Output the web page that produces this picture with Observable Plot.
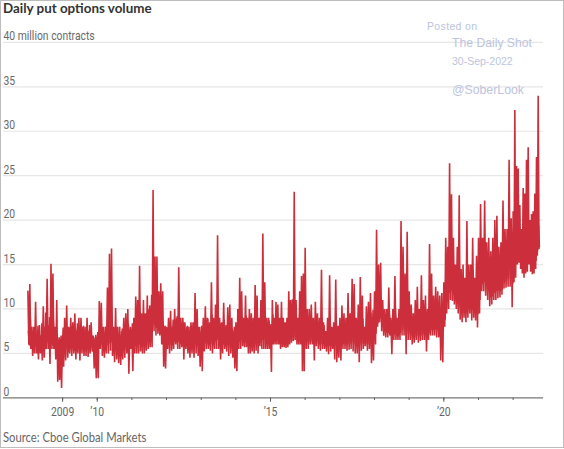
<!DOCTYPE html>
<html>
<head>
<meta charset="utf-8">
<script src="https://cdn.jsdelivr.net/npm/d3@7"></script>
<script src="https://cdn.jsdelivr.net/npm/@observablehq/plot@0.6"></script>
<style>
html,body{margin:0;padding:0;background:#fff;}
#page{position:relative;width:562px;height:446px;border:1px solid #bdbdbd;overflow:hidden;background:#fff;}
#title{position:absolute;left:2px;top:-2px;font:700 13.4px/18px Lato,sans-serif;color:#333;white-space:nowrap;}
#source{position:absolute;left:2px;top:429px;font:400 12.5px/16px Lato,sans-serif;color:#666;white-space:nowrap;transform:scaleX(.9);transform-origin:left center;}
.wm{position:absolute;font-family:"Liberation Sans",Arial,sans-serif;color:#bcc4de;white-space:nowrap;}
#chart{position:absolute;left:-1px;top:-1px;}
#chart svg{display:block;}
</style>
</head>
<body>
<div id="page">
  <div id="chart"></div>
  <div id="title">Daily put options volume</div>
  <div id="source">Source: Cboe Global Markets</div>
  <div class="wm" style="left:426px;top:19px;font-size:10.5px;letter-spacing:.35px">Posted on</div>
  <div class="wm" style="left:451px;top:35px;font-size:12.2px">The Daily Shot</div>
  <div class="wm" style="left:451px;top:54px;font-size:10.5px">30-Sep-2022</div>
  <div class="wm" style="left:451px;top:82px;font-size:12.3px">@SoberLook</div>
</div>
<script>
// Each year: alternating high, low readings (million contracts), read left to right
const y2008 = [12,6, 12.8,5.5, 8,4.7, 8,5, 10.8,5, 7,4.3, 8.2,5, 7,4.2, 10.3,4.5, 8,5.5, 13.4,5.5, 8,3.8, 15.1,5.5, 14,5.5, 8,4.3, 11,1.8, 6.5,2, 6,1.1];
const y2009 = [7,3.5, 9,4.2, 10.4,4.5, 8,5, 9,4.7, 8.5,5, 9.5,4.3, 7.5,5, 9,4.2, 9,5, 8,4.7, 8,4.7, 9,4.6, 7.5,5, 8.5,5.2, 7,3.3, 6.5,2.2];
const y2010 = [6.8,2.2, 10.9,5.5, 10.7,4.7, 8,4.5, 8,5, 12.4,5, 16.2,5.3, 16.8,4.7, 8,4, 10.1,4.3, 8,3.9, 8,3.7, 7.5,4.3, 9,4.5, 9.5,5, 10,2.7, 7.5,5.5];
const y2011 = [7.5,3, 9,5, 11.4,5, 11,5, 14.85,5.2, 9.5,5, 11,5, 9.5,5.3, 11.5,5.5, 10,5.7, 10,5.7, 23.4,7.5, 15.9,7, 15.9,7.2, 12,7, 12.9,6, 12,3.5, 8,3.3];
const y2012 = [8,5.5, 9,5, 9.8,5.3, 8,5.5, 10,6, 9,5.5, 14.7,5.5, 9,5.7, 9,4.3, 8.5,5.5, 8,5, 8,4.5, 8.5,5, 8.5,4.5, 11.8,5, 10,4.7, 8,3.5];
const y2013 = [8,3, 9,5.2, 10.3,5.5, 9,5.5, 8.5,5.3, 13,5, 9,5.5, 10.5,5.5, 18.3,5.5, 9,4.3, 8.5,5, 10.7,5.5, 8,5.2, 10.2,4.7, 10.5,5, 9,4.5, 7.5,3.3];
const y2014 = [8.5,3, 10,5.5, 13.5,5.5, 12,5.8, 9,5.7, 11.5,5.7, 9,5, 10,5, 9.5,5.2, 9,5, 12.7,5.3, 11.5,5, 9,5.8, 11,5.5, 18.5,5.5, 13,5.5, 9,5.5, 9,5.5];
const y2015 = [7.5,2.9, 11,6, 9,6, 10.8,6, 10.5,6, 9,5.5, 10.8,5.7, 9,5.7, 8.5,5.6, 9,5.7, 12,6, 11,6.2, 11.1,6.4, 23.2,6.5, 11,6, 9,6, 12,6, 13.7,3, 14,3];
const y2016 = [16.9,5.5, 10,5.5, 10,6, 10.5,6, 9,4.2, 10.8,5.8, 9.5,5.5, 9,5.3, 14.4,5.5, 8.5,5.5, 7.5,5.2, 9,4.9, 13.8,5.2, 8,5.5, 8.5,4.3, 13.3,4, 8,4.5];
const y2017 = [9,4.2, 10.4,5.5, 9.5,5.5, 9,5.3, 11.8,5.4, 9.5,5.5, 13.4,5.2, 12.8,5, 9,5, 10.5,4, 13.6,5.3, 11.5,5.5, 8,5.8, 10.3,5.3, 10.8,5.5, 11.8,3.9, 9,4.2];
const y2018 = [12,6, 18.9,8, 15,8.5, 15.2,7.5, 11,7, 10,6.8, 10,6.8, 12.4,7, 9,4.9, 10,6.5, 13.7,6.5, 9,6.5, 10,6.5, 19.9,7, 17,7, 14,4.9, 18.7,6.5];
const y2019 = [12,6.5, 10.5,6, 9.5,6.2, 11,6.5, 12.5,6.2, 10,6.4, 13.8,6.5, 11,6.5, 11.5,5.2, 10,6.5, 17.3,7, 14,7, 11.5,7, 12.5,6.8, 12,6.8, 11.5,4.2, 11.8,4];
const y2020 = [13,8, 18,9.5, 17,10, 26.4,11, 22.9,10.9, 18,10.5, 15,10, 17,9.5, 22.8,8.8, 14.5,8.5, 15,9, 13.5,8.5, 19.9,9, 15,9.5, 15,8.7, 18,9, 13.5,8.7, 16,7.9];
const y2021 = [18,9.5, 21.8,12, 18,12, 22.2,11.5, 17.5,11, 18,10.3, 16.5,10.5, 18,11, 20,11, 20.5,11.2, 17,11.3, 17.5,11.6, 22.2,12.3, 19,12.4, 19,12.5, 26.8,12.5, 20.2,10.2];
const y2022 = [21,13, 32.4,13.5, 26.1,15, 25.8,15.2, 21.7,14.5, 19,14, 23.6,13.5, 23,14, 26.8,14.2, 28.2,15, 20,14.2, 20.7,13.9, 21,14, 23,14.5, 27.1,16, 34,16.8];

// The dense days between those readings: the same alternation at a lower amplitude
const d2008 = [7.5,5.9, 9.2,6.1, 7,5.6, 7.6,5.8, 7.2,5.7, 8.1,6, 7,5.5, 8.4,6, 7.3,5.8, 9.6,6.2, 8.2,6.1, 9.1,6, 7.6,5.9, 8.8,6, 7.2,5.4, 6.9,5.2, 6.8,5.3, 7,5.1];
const d2009 = [7.9,5.5, 8.3,5.6, 7.2,5.2, 7.6,5.5, 8,5.7, 7.3,5.3, 7.8,5.6, 8.4,5.5, 7.1,5.2, 7.7,5.6, 8.1,5.4, 7.2,5.3, 7.6,5.6, 8.2,5.7, 7,5.4, 6.8,5.2, 7.1,5.3];
const d2010 = [7.4,5.6, 8.2,6, 7.6,5.7, 7.2,5.6, 8,5.9, 9.3,6.1, 9.6,6.2, 8,5.8, 7.3,5.5, 7.9,5.6, 7.2,5.4, 7,5.3, 7.8,5.6, 8.2,5.9, 7.6,5.8, 8.4,6, 8,6];
const d2011 = [8.4,6, 8.1,5.9, 9.2,6.2, 8.6,6, 9.7,6.3, 8.8,6.1, 9.4,6.4, 8.7,6.2, 9.9,6.6, 10.4,7.2, 11.6,7.8, 12.2,8.2, 11.5,7.9, 10.8,7.6, 10.2,7.2, 9.4,6.8, 8.6,6.2, 8.1,5.8];
const d2012 = [7.6,6, 8.4,6.2, 7.9,6, 8.8,6.3, 8.2,6.2, 9.2,6.3, 8.4,6.1, 7.8,6, 8.5,5.9, 7.6,5.9, 8.1,5.8, 7.4,5.7, 8.2,5.9, 7.8,5.7, 8.6,6, 7.9,5.8, 7.5,5.6];
const d2013 = [8.1,6, 8.7,6.2, 8,6.1, 8.9,6.3, 8.2,6.1, 9.4,6.4, 8.8,6.4, 9.6,6.5, 9.1,6.2, 8.4,6, 7.9,6, 8.8,6.2, 8.2,6, 8.9,6.2, 8.1,5.9, 7.7,5.8, 8,5.8];
const d2014 = [8.2,6.1, 8.9,6.3, 9.7,6.6, 9.1,6.4, 8.5,6.2, 9.3,6.3, 8.1,6, 8.6,6, 7.8,5.9, 8.4,6, 9.6,6.2, 8.7,6, 8.2,6.2, 9.5,6.5, 10.2,6.8, 9.2,6.4, 8.4,6.2, 8.7,6.3];
const d2015 = [8.3,6.2, 9.4,6.5, 8.8,6.4, 9.5,6.5, 8.9,6.3, 8.2,6, 8.6,6.1, 8,6, 8.4,6.1, 8.1,6, 9.6,6.6, 9.9,6.9, 9.6,6.8, 10.6,7, 9,6.5, 8.5,6.3, 9.2,6.5, 9.4,6.3, 8.2,6];
const d2016 = [9.4,6.3, 8.6,6.2, 8.9,6.3, 8.4,6.4, 7.9,6, 8.8,6.4, 8.2,6.1, 7.9,6, 9,6.2, 8.2,6.2, 7.4,5.9, 8,5.8, 8.9,6.1, 7.9,6.1, 8.4,6, 8.9,6, 8.1,5.9];
const d2017 = [8.3,6, 8.8,6.1, 8.5,6.2, 8.1,6, 9.2,6.1, 8.4,6.2, 9.3,6, 8.9,5.9, 8.1,5.9, 8.6,6, 9.1,6.1, 8.9,6.2, 7.8,6.1, 8.6,6, 9.2,6.2, 9.6,6.3, 9.9,6.8];
const d2018 = [10.4,7.2, 11.4,8.4, 11.8,8.9, 11,8.3, 9.9,7.7, 9.4,7.4, 9.1,7.3, 9.8,7.3, 8.7,6.9, 9.2,7.1, 10,7.2, 8.9,7, 9.5,7.3, 11.2,7.6, 10.7,7.8, 10.1,7.2, 10.9,7.4];
const d2019 = [9.8,7.2, 9.1,6.9, 8.8,6.8, 9.4,7, 10,7.1, 9.1,7, 9.9,7.2, 9.3,7.1, 9,6.8, 9.2,7.2, 10.9,7.6, 10.5,7.6, 9.8,7.7, 10.3,7.6, 10,7.4, 9.4,7.1, 9.7,7.6];
const d2020 = [11,8.8, 14.8,11, 16.2,11.8, 17.8,12, 16.4,11.6, 15,11, 14.2,10.6, 13.6,10.2, 14.4,9.8, 13,9.6, 13.5,9.8, 12.8,9.5, 14,10, 13.2,10.2, 13.8,9.9, 14.4,10.3, 12.9,9.6, 13.4,9.4];
const d2021 = [15.2,11, 16.8,12.8, 16.2,13, 17.4,12.6, 15.6,12, 15,11.3, 14.8,11.4, 15.4,11.8, 16.2,12, 16.6,12.1, 15.5,12, 15.8,12.2, 17,12.9, 17.2,13.2, 16.8,13.4, 18.4,13.8, 17.2,12.8];
const d2022 = [18.2,14.2, 19.6,15.2, 20.4,16, 19.8,16.2, 19,15.8, 17.8,15, 19.2,14.8, 19.6,15, 20.2,15.4, 19.5,16, 18.2,15, 17.8,14.8, 18.4,15, 19.6,15.4, 20.6,16.6, 19.4,17];

const years = [2008,2009,2010,2011,2012,2013,2014,2015,2016,2017,2018,2019,2020,2021,2022];
const seriesByYear = [y2008,y2009,y2010,y2011,y2012,y2013,y2014,y2015,y2016,y2017,y2018,y2019,y2020,y2021,y2022];
const denseByYear = [d2008,d2009,d2010,d2011,d2012,d2013,d2014,d2015,d2016,d2017,d2018,d2019,d2020,d2021,d2022];
const lastYearSpan = 0.77;

const yTicks = [0,5,10,15,20,25,30,35,40];
const labelledYears = [2009,2010,2015,2020];
const tickLabels = ["2009","\u201910","\u201915","\u201920"];
const tickYears = [2009,2010,2011,2012,2013,2014,2015,2016,2017,2018,2019,2020,2021,2022];

const jan1 = y => new Date(Date.UTC(y,0,1));
const trace = (table, offset) => years.flatMap((yr,k) => {
  const vals = table[k];
  const span = yr === 2022 ? lastYearSpan : 1;
  return vals.map((v,i) => ({
    date: new Date(+jan1(yr) + ((i+offset)/vals.length)*span*365.25*864e5),
    v
  }));
});
const points = trace(seriesByYear, 0);
const dense = trace(denseByYear, 0.5);

const chart = Plot.plot({
  width:564, height:449,
  marginLeft:3, marginRight:20, marginTop:42, marginBottom:51,
  style:{background:"transparent"},
  x:{type:"utc", label:null, domain:[new Date(Date.UTC(2007,3,19)), new Date(Date.UTC(2022,10,17))]},
  y:{label:null, domain:[0,40]},
  marks:[
    Plot.gridY(yTicks.filter(d=>d>0),{stroke:"#e6e6e6",strokeOpacity:1,strokeWidth:1.2}),
    Plot.ruleX(tickYears.map(jan1),{x:d=>d,y1:0,y2:-0.3,stroke:"#555"}),
    Plot.ruleX(labelledYears.map(jan1),{x:d=>d,y1:0,y2:-0.5,stroke:"#555"}),
    Plot.ruleY([0],{stroke:"#777",strokeWidth:1.3}),
    Plot.axisX(labelledYears.map(jan1),{anchor:"bottom",tickSize:0,tickPadding:9,
      fill:"#666",fontSize:13,fontFamily:"Roboto, sans-serif",
      tickFormat:d=>tickLabels[labelledYears.indexOf(d.getUTCFullYear())]}),
    Plot.axisY(yTicks,{anchor:"left",tickSize:0,tickPadding:0,textAnchor:"start",lineAnchor:"bottom",dx:0,dy:-2,
      fill:"#6a6a6a",fontSize:13,fontFamily:"Roboto, sans-serif",
      tickFormat:d=>d===40?"40 million contracts":String(d)}),
    Plot.line(dense,{x:"date",y:"v",stroke:"#cc2f3b",strokeWidth:1.5,strokeLinejoin:"bevel"}),
    Plot.line(points,{x:"date",y:"v",stroke:"#cc2f3b",strokeWidth:1.6,strokeLinejoin:"bevel"})
  ]
});
document.getElementById("chart").append(chart);
// Condense the axis text to match the reference's narrow face
chart.querySelectorAll('[aria-label="y-axis tick label"] text, [aria-label="x-axis tick label"] text').forEach(t=>{
  t.setAttribute("textLength", (t.getComputedTextLength()*0.8).toFixed(1));
  t.setAttribute("lengthAdjust","spacingAndGlyphs");
});
</script>
</body>
</html>
